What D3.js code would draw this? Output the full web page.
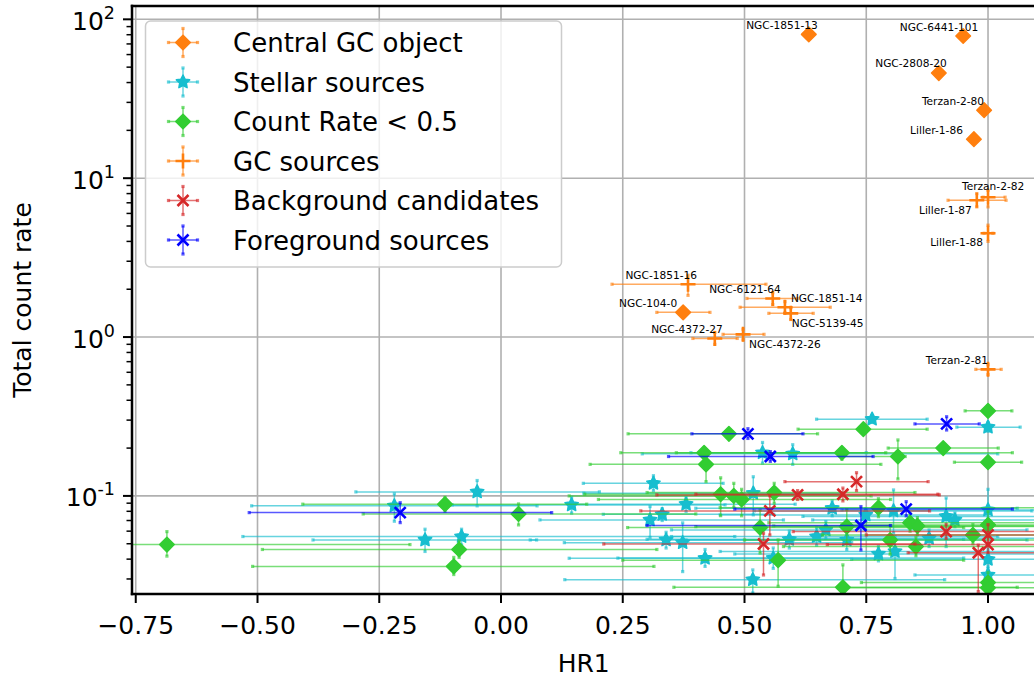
<!DOCTYPE html>
<html><head><meta charset="utf-8">
<script src="https://cdn.jsdelivr.net/npm/d3@7"></script>
<style>body{margin:0;background:#fff} svg{display:block} text{font-family:"DejaVu Sans",sans-serif;fill:#000}</style>
</head><body><svg id="chart" width="1034" height="681"></svg>
<script>
// ---- DATA ----
// named rows: [name, HR1, rate, HR1 min, HR1 max, rate min, rate max]
const centralGC = [
  ["NGC-1851-13", 0.632, 80.4, 0.627, 0.637, 78.0, 82.8],
  ["NGC-6441-101", 0.949, 78.5, 0.944, 0.954, 76.5, 80.5],
  ["NGC-2808-20", 0.899, 45.9, 0.893, 0.905, 44.6, 47.2],
  ["Terzan-2-80", 0.992, 26.8, 0.986, 0.998, 26.0, 27.6],
  ["Liller-1-86", 0.971, 17.6, 0.965, 0.977, 17.1, 18.1],
  ["NGC-104-0", 0.374, 1.43, 0.320, 0.429, 1.41, 1.45]
];
const gcSources = [
  ["NGC-1851-16", 0.384, 2.15, 0.228, 0.544, 1.83, 2.45],
  ["NGC-6121-64", 0.558, 1.75, 0.505, 0.608, 1.60, 1.90],
  ["NGC-1851-14", 0.583, 1.54, 0.491, 0.676, 1.42, 1.67],
  ["NGC-5139-45", 0.595, 1.41, 0.550, 0.641, 1.29, 1.53],
  ["NGC-4372-27", 0.439, 0.98, 0.394, 0.485, 0.90, 1.07],
  ["NGC-4372-26", 0.497, 1.04, 0.456, 0.540, 0.96, 1.12],
  ["Terzan-2-81", 1.000, 0.626, 0.975, 1.027, 0.58, 0.67],
  ["Terzan-2-82", 1.000, 7.59, 0.990, 1.035, 6.6, 8.4],
  ["Liller-1-87", 0.977, 7.26, 0.918, 1.037, 6.6, 8.0],
  ["Liller-1-88", 1.000, 4.50, 0.992, 1.010, 4.0, 5.06]
];
// rows: [HR1, rate, HR1 min, HR1 max, rate min, rate max]
const stellarSources = [
  [-0.219, 0.0866, -0.512, 0.074, 0.0693, 0.103],
  [-0.156, 0.0528, -0.386, 0.073, 0.0447, 0.0617],
  [-0.081, 0.0555, -0.530, 0.480, 0.0491, 0.0617],
  [-0.049, 0.106, -0.298, 0.202, 0.0866, 0.125],
  [0.145, 0.0878, -0.100, 0.460, 0.078, 0.098],
  [0.313, 0.120, 0.169, 0.456, 0.108, 0.134],
  [0.380, 0.0887, 0.140, 0.604, 0.080, 0.098],
  [0.331, 0.0766, 0.210, 0.560, 0.070, 0.083],
  [0.306, 0.0706, 0.080, 0.580, 0.0548, 0.0857],
  [0.339, 0.0528, 0.060, 0.600, 0.047, 0.059],
  [0.373, 0.0508, 0.130, 0.720, 0.0334, 0.0676],
  [0.419, 0.0405, 0.140, 0.780, 0.036, 0.046],
  [0.517, 0.0297, 0.131, 0.911, 0.0245, 0.0342],
  [0.592, 0.0533, 0.300, 0.950, 0.047, 0.060],
  [0.648, 0.0555, 0.350, 1.020, 0.049, 0.063],
  [0.559, 0.0406, 0.240, 0.950, 0.035, 0.047],
  [0.537, 0.187, 0.390, 0.750, 0.161, 0.217],
  [0.599, 0.184, 0.290, 1.020, 0.158, 0.210],
  [0.518, 0.104, 0.170, 0.700, 0.076, 0.132],
  [0.762, 0.304, 0.648, 0.875, 0.290, 0.320],
  [1.000, 0.271, 0.936, 1.066, 0.255, 0.290],
  [0.680, 0.0836, 0.400, 1.060, 0.075, 0.093],
  [0.667, 0.0611, 0.350, 1.080, 0.054, 0.069],
  [0.710, 0.0528, 0.380, 1.080, 0.046, 0.060],
  [0.806, 0.0805, 0.520, 1.090, 0.0585, 0.109],
  [0.775, 0.0431, 0.480, 1.100, 0.039, 0.048],
  [0.809, 0.0447, 0.450, 1.100, 0.0302, 0.0555],
  [0.879, 0.0541, 0.600, 1.100, 0.048, 0.061],
  [0.914, 0.0743, 0.620, 1.100, 0.048, 0.097],
  [0.932, 0.0706, 0.640, 1.100, 0.064, 0.078],
  [1.000, 0.0816, 0.700, 1.100, 0.072, 0.110],
  [1.000, 0.0399, 0.720, 1.100, 0.035, 0.046],
  [1.000, 0.0318, 0.850, 1.100, 0.028, 0.036],
  [0.749, 0.0759, 0.450, 1.000, 0.069, 0.083]
];
const lowCountSources = [
  [-0.686, 0.0494, -1.000, -0.187, 0.0418, 0.0596],
  [-0.115, 0.0887, -0.407, 0.176, 0.080, 0.098],
  [0.036, 0.077, -0.283, 0.400, 0.0657, 0.089],
  [-0.086, 0.046, -0.490, 0.320, 0.041, 0.052],
  [-0.097, 0.036, -0.510, 0.314, 0.032, 0.041],
  [0.468, 0.246, 0.261, 0.650, 0.235, 0.260],
  [0.417, 0.187, 0.246, 0.790, 0.175, 0.200],
  [0.421, 0.158, 0.183, 0.780, 0.123, 0.170],
  [0.451, 0.1025, 0.172, 0.700, 0.0751, 0.130],
  [0.478, 0.100, 0.140, 0.760, 0.085, 0.120],
  [0.494, 0.095, 0.200, 0.800, 0.075, 0.110],
  [0.561, 0.105, 0.300, 0.850, 0.090, 0.120],
  [0.532, 0.0632, 0.260, 0.950, 0.0437, 0.0816],
  [0.569, 0.0394, 0.250, 0.950, 0.027, 0.0528],
  [0.700, 0.187, 0.360, 1.050, 0.170, 0.200],
  [0.744, 0.263, 0.610, 0.875, 0.250, 0.280],
  [1.000, 0.343, 0.953, 1.049, 0.320, 0.370],
  [0.908, 0.200, 0.795, 1.021, 0.190, 0.210],
  [1.000, 0.163, 0.931, 1.069, 0.155, 0.172],
  [0.815, 0.177, 0.700, 0.830, 0.128, 0.225],
  [0.775, 0.0843, 0.450, 1.100, 0.074, 0.096],
  [0.710, 0.0641, 0.400, 1.100, 0.050, 0.082],
  [0.799, 0.0528, 0.500, 1.100, 0.043, 0.065],
  [0.840, 0.0678, 0.550, 1.100, 0.060, 0.077],
  [0.855, 0.0647, 0.560, 1.100, 0.057, 0.073],
  [0.852, 0.048, 0.580, 1.100, 0.042, 0.055],
  [0.969, 0.0568, 0.660, 1.100, 0.050, 0.066],
  [1.000, 0.0657, 0.700, 1.100, 0.055, 0.080],
  [1.000, 0.0285, 0.740, 1.100, 0.025, 0.033],
  [1.000, 0.0264, 0.700, 1.100, 0.024, 0.029],
  [0.702, 0.0266, 0.355, 1.060, 0.024, 0.0368]
];
const backgroundCandidates = [
  [0.609, 0.1015, 0.320, 0.900, 0.095, 0.108],
  [0.552, 0.0805, 0.287, 0.880, 0.0568, 0.100],
  [0.539, 0.0498, 0.211, 0.850, 0.0318, 0.0582],
  [0.730, 0.123, 0.583, 0.877, 0.108, 0.140],
  [0.702, 0.1025, 0.400, 0.897, 0.093, 0.112],
  [0.914, 0.0596, 0.600, 1.100, 0.054, 0.066],
  [1.000, 0.0494, 0.670, 1.100, 0.044, 0.056],
  [0.980, 0.0439, 0.836, 1.100, 0.025, 0.049],
  [1.000, 0.0568, 0.750, 1.100, 0.050, 0.066]
];
const foregroundSources = [
  [-0.207, 0.0785, -0.517, 0.104, 0.0679, 0.0906],
  [0.507, 0.246, 0.392, 0.620, 0.230, 0.265],
  [0.553, 0.177, 0.344, 0.764, 0.165, 0.190],
  [0.915, 0.284, 0.850, 0.982, 0.260, 0.315],
  [0.832, 0.0826, 0.480, 1.050, 0.075, 0.092],
  [0.739, 0.0651, 0.300, 0.800, 0.0457, 0.0857]
];
const legendLabels = ["Central GC object", "Stellar sources", "Count Rate < 0.5", "GC sources", "Background candidates", "Foreground sources"];
const xTickValues = [-0.75, -0.50, -0.25, 0.00, 0.25, 0.50, 0.75, 1.00];
const yTickValues = [0.1, 1, 10, 100];
const xLabel = "HR1";
const yLabel = "Total count rate";

// ---- LAYOUT / STYLE ----
const labelPlacement = {
  "NGC-1851-13": [9, -5, "end"], "NGC-6441-101": [15, -5.5, "end"], "NGC-2808-20": [8, -6, "end"],
  "Terzan-2-80": [0, -5.5, "end"], "Liller-1-86": [-11, -5, "end"], "NGC-104-0": [-6, -5.5, "end"],
  "NGC-1851-16": [9, -5, "end"], "NGC-6121-64": [8, -5, "end"], "NGC-1851-14": [6, -5, "start"],
  "NGC-5139-45": [1, 14, "start"], "NGC-4372-27": [8, -5, "end"], "NGC-4372-26": [6, 14, "start"],
  "Terzan-2-81": [0, -5, "end"], "Terzan-2-82": [-26, -7, "start"], "Liller-1-87": [-5, 14, "end"],
  "Liller-1-88": [-5, 13, "end"]
};
const L = 132, R = 1035.5, T = 6, B = 594;
const svg = d3.select("#chart");
const x = d3.scaleLinear().domain([-0.7577, 1.0975]).range([L, R]);
const y = d3.scaleLog().domain([0.02413, 121.3]).range([B, T]);

const shapes = {
  diamond: r => `M0,${-r}L${r},0L0,${r}L${-r},0Z`,
  star: r => { let p = ""; for (let i = 0; i < 10; i++) { const a = -Math.PI/2 + i*Math.PI/5; const rr = i%2 ? r*0.5 : r; p += (i?"L":"M") + (rr*Math.cos(a)).toFixed(2) + "," + (rr*Math.sin(a)).toFixed(2); } return p + "Z"; },
  plus: r => `M${-r},0H${r}M0,${-r}V${r}`,
  cross: r => `M${-r},${-r}L${r},${r}M${-r},${r}L${r},${-r}`
};
const series = [
  {rows: centralGC, named: true, color: "#ff7f0e", shape: "diamond", r: 7.3, fill: true},
  {rows: stellarSources, named: false, color: "#17becf", shape: "star", r: 7, fill: true},
  {rows: lowCountSources, named: false, color: "#32cd32", shape: "diamond", r: 7.3, fill: true},
  {rows: gcSources, named: true, color: "#ff7f0e", shape: "plus", r: 7.5, fill: false},
  {rows: backgroundCandidates, named: false, color: "#d62728", shape: "cross", r: 5.5, fill: false},
  {rows: foregroundSources, named: false, color: "#0000ff", shape: "cross", r: 5.5, fill: false}
];
const rec = (row, named) => { const o = named ? 1 : 0; return {name: named ? row[0] : null, hr: row[o], rate: row[o+1], hrMin: row[o+2], hrMax: row[o+3], rMin: row[o+4], rMax: row[o+5]}; };

svg.append("defs").append("clipPath").attr("id", "clip").append("rect")
  .attr("x", L).attr("y", T).attr("width", R - L).attr("height", B - T);

// grid
const grid = svg.append("g").attr("stroke", "#b0b0b0").attr("stroke-width", 1.6);
xTickValues.forEach(v => grid.append("line").attr("x1", x(v)).attr("x2", x(v)).attr("y1", T).attr("y2", B));
yTickValues.forEach(v => grid.append("line").attr("x1", L).attr("x2", R).attr("y1", y(v)).attr("y2", y(v)));

// data
const plot = svg.append("g").attr("clip-path", "url(#clip)");
function drawMarker(g, s, cx, cy) {
  g.append("path").attr("transform", `translate(${cx},${cy})`).attr("d", shapes[s.shape](s.r))
    .attr("fill", s.fill ? s.color : "none").attr("stroke", s.color)
    .attr("stroke-width", s.fill ? 1.5 : 2.6).attr("stroke-linejoin", "round");
}
function drawErr(g, s, x1, y1, x2, y2, op) {
  g.append("line").attr("x1", x1).attr("y1", y1).attr("x2", x2).attr("y2", y2)
    .attr("stroke", s.color).attr("stroke-width", 1.5).attr("opacity", op);
  [[x1, y1], [x2, y2]].forEach(([a, b]) => g.append("rect").attr("x", a - 1.6).attr("y", b - 1.6)
    .attr("width", 3.2).attr("height", 3.2).attr("fill", s.color).attr("opacity", op));
}
series.forEach(s => {
  const g = plot.append("g");
  const pts = s.rows.map(r => rec(r, s.named));
  pts.forEach(p => {
    drawErr(g, s, x(p.hrMin), y(p.rate), x(p.hrMax), y(p.rate), 0.65);
    drawErr(g, s, x(p.hr), y(p.rMin), x(p.hr), y(p.rMax), 0.65);
  });
  pts.forEach(p => drawMarker(g, s, x(p.hr), y(p.rate)));
});

// annotations
series.filter(s => s.named).forEach(s => s.rows.map(r => rec(r, true)).forEach(p => {
  const pl = labelPlacement[p.name] || [0, -6, "middle"];
  svg.append("text").attr("x", x(p.hr) + pl[0]).attr("y", y(p.rate) + pl[1])
    .attr("text-anchor", pl[2]).attr("font-size", 10.6).text(p.name);
}));

// spines
svg.append("line").attr("x1", L).attr("x2", L).attr("y1", T - 1.2).attr("y2", B + 1.2).attr("stroke", "#000").attr("stroke-width", 2.5);
svg.append("line").attr("x1", L - 1.2).attr("x2", R).attr("y1", B).attr("y2", B).attr("stroke", "#000").attr("stroke-width", 2.5);
svg.append("line").attr("x1", L - 1.2).attr("x2", R).attr("y1", T).attr("y2", T).attr("stroke", "#000").attr("stroke-width", 2.5);

// x ticks
const fmt = d3.format(".2f");
xTickValues.forEach(v => {
  svg.append("line").attr("x1", x(v)).attr("x2", x(v)).attr("y1", B).attr("y2", B + 9).attr("stroke", "#000").attr("stroke-width", 2);
  svg.append("text").attr("x", x(v)).attr("y", B + 40).attr("text-anchor", "middle").attr("font-size", 25)
    .text(fmt(v).replace("-", "\u2212"));
});
// y ticks
yTickValues.forEach(v => {
  svg.append("line").attr("x1", L - 9).attr("x2", L).attr("y1", y(v)).attr("y2", y(v)).attr("stroke", "#000").attr("stroke-width", 2);
  const t = svg.append("text").attr("x", 115).attr("y", y(v) + 10.5).attr("text-anchor", "end").attr("font-size", 25);
  t.append("tspan").text("10");
  t.append("tspan").attr("dy", -11).attr("font-size", 17.5).text(Math.round(Math.log10(v)));
});
const minor = [];
[0.01, 0.1, 1, 10].forEach(d => { for (let k = 2; k <= 9; k++) minor.push(d * k); });
minor.filter(v => v > y.domain()[0] && v < y.domain()[1]).forEach(v => {
  svg.append("line").attr("x1", L - 5.5).attr("x2", L).attr("y1", y(v)).attr("y2", y(v)).attr("stroke", "#000").attr("stroke-width", 1.5);
});

// axis labels
svg.append("text").attr("x", (L + R) / 2).attr("y", 672).attr("text-anchor", "middle").attr("font-size", 25).text(xLabel);
svg.append("text").attr("transform", `translate(31,${(T + B) / 2}) rotate(-90)`).attr("text-anchor", "middle").attr("font-size", 25).text(yLabel);

// legend
const lg = svg.append("g");
lg.append("rect").attr("x", 145.5).attr("y", 21).attr("width", 416).attr("height", 246).attr("rx", 5)
  .attr("fill", "#fff").attr("fill-opacity", 0.8).attr("stroke", "#cccccc").attr("stroke-width", 1.5);
legendLabels.forEach((lab, i) => {
  const s = series[i];
  const cy = 42.5 + i * 39.5, cx = 183;
  drawErr(lg, s, cx - 14.5, cy, cx + 14.5, cy, 0.65);
  drawErr(lg, s, cx, cy - 14, cx, cy + 14, 0.65);
  drawMarker(lg, s, cx, cy);
  lg.append("text").attr("x", 233).attr("y", cy + 9.5).attr("font-size", 26).text(lab);
});
</script></body></html>
